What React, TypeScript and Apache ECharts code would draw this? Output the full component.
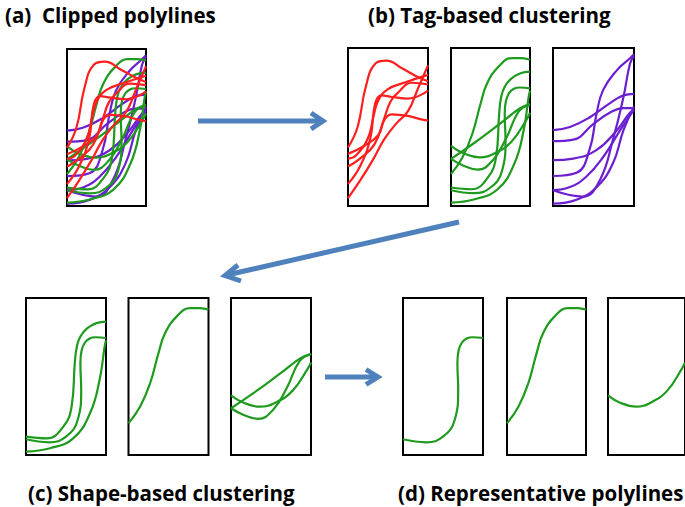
import React, { useEffect, useRef } from 'react';
import * as echarts from 'echarts';

type Pt = [number, number];

// Polylines in panel units: x 0..10 (left to right), y 0..10 (bottom to top)
const redCurves: Pt[][] = [
  [[0, 3.7], [1.2, 5.0], [2.2, 7.5], [3.4, 9.0], [4.8, 9.2], [6.8, 8.7], [8.6, 8.2], [10, 7.9]],
  [[0, 2.5], [1.5, 3.0], [3.3, 3.9], [4.5, 5.5], [5.3, 6.6], [6.3, 7.2], [8.0, 7.8], [10, 7.7]],
  [[0, 1.4], [1.5, 2.5], [2.8, 4.3], [3.4, 6.5], [4.2, 7.0], [5.5, 6.9], [7.5, 6.8], [10, 7.3]],
  [[0, 0.5], [1.5, 1.6], [3.2, 3.0], [4.5, 4.2], [6.0, 5.2], [7.5, 6.0], [8.8, 7.5], [10, 8.9]],
  [[0, 3.3], [2.0, 3.8], [3.8, 4.5], [4.6, 5.5], [5.5, 5.8], [7.5, 5.7], [9.0, 5.5], [10, 5.4]],
  [[0, 3.0], [1.0, 3.2], [2.5, 4.3], [3.2, 5.7], [3.8, 6.7], [5.0, 7.4], [7.0, 7.8], [10, 8.3]],
];

// Green polylines, grouped by shape cluster
const greenShapeA: Pt[][] = [
  [[0, 1.17], [2.6, 1.06], [4.67, 1.81], [5.7, 3.09], [6.1, 5.85], [6.35, 6.9], [6.8, 7.55], [7.6, 8.05], [8.8, 8.4], [10, 8.5]],
  [[0, 1.0], [2.9, 0.81], [5.0, 1.17], [6.46, 2.23], [6.9, 4.15], [6.8, 5.85], [6.95, 6.65], [7.35, 7.15], [7.95, 7.42], [8.7, 7.5], [10, 7.45]],
  [[0, 0.21], [3.0, 0.43], [5.9, 1.06], [8.0, 2.66], [9.2, 4.79], [9.83, 6.91], [10, 7.3]],
];
const greenShapeB: Pt[][] = [
  [[0, 2.02], [1.46, 3.09], [2.7, 4.57], [3.75, 6.49], [4.58, 7.77], [6.04, 8.83], [7.7, 9.36], [8.96, 9.36], [10, 9.26]],
];
const greenShapeC: Pt[][] = [
  [[0, 3.8], [1.5, 3.35], [3.6, 3.08], [5.6, 3.35], [7.7, 4.1], [9.6, 5.5], [10, 5.9]],
  [[0, 2.98], [2.8, 3.94], [6.2, 5.21], [8.7, 6.17], [10, 6.45]],
  [[0, 2.98], [1.6, 2.55], [3.4, 2.3], [5.3, 2.9], [7.0, 4.3], [8.6, 6.0], [10, 6.4]],
];

const purpleCurves: Pt[][] = [
  [[0, 4.8], [2.1, 5.0], [4.5, 5.6], [7.0, 6.5], [8.7, 7.0], [10, 7.1]],
  [[0, 4.1], [2.5, 4.2], [5.0, 5.2], [7.0, 5.9], [8.7, 6.2], [10, 6.2]],
  [[0, 1.9], [2.9, 2.1], [4.5, 3.55], [5.4, 5.9], [6.2, 7.35], [7.9, 8.6], [9.5, 9.35], [10, 9.6]],
  [[0, 1.0], [3.7, 0.6], [5.8, 1.65], [7.4, 4.2], [8.7, 6.9], [9.5, 9.0], [10, 9.5]],
  [[0, 2.9], [2.5, 3.0], [5.4, 3.55], [7.9, 4.8], [9.5, 5.9], [10, 6.0]],
  [[0, 1.0], [2.1, 1.2], [4.1, 1.85], [6.2, 3.1], [8.3, 4.8], [10, 6.1]],
  [[0, 0.15], [2.9, 0.4], [5.4, 1.2], [7.4, 2.7], [8.7, 4.8], [10, 6.3]],
];

// Medoid of each shape cluster (index into the cluster)
const representativeIndex = [1, 0, 0];

const panelTitles = ['(a)  Clipped polylines', '(b) Tag-based clustering', '(c) Shape-based clustering', '(d) Representative polylines'];

const RED = '#ff1f1f';
const GREEN = '#1e9a1e';
const PURPLE = '#6b1fd0';
const ARROW = '#4f81bd';

type Panel = { box: [number, number, number, number]; curves: { pts: Pt[]; color: string }[] };

const tag = (list: Pt[][], color: string) => list.map((pts) => ({ pts, color }));
const greenAll = [...greenShapeA, ...greenShapeB, ...greenShapeC];
const shapeClusters = [greenShapeA, greenShapeB, greenShapeC];

const panels: Panel[] = [
  { box: [67, 49, 79, 157], curves: [...tag(purpleCurves, PURPLE), ...tag(greenAll, GREEN), ...tag(redCurves, RED)] },
  { box: [348, 48, 80, 158], curves: tag(redCurves, RED) },
  { box: [451, 48, 79, 158], curves: tag(greenAll, GREEN) },
  { box: [553, 48, 81, 158], curves: tag(purpleCurves, PURPLE) },
  ...shapeClusters.map((c, i) => ({ box: [26 + i * 102.5, 298, 80, 157] as [number, number, number, number], curves: tag(c, GREEN) })),
  ...shapeClusters.map((c, i) => ({
    box: [[403, 298, 80, 157], [507, 298, 79, 157], [608, 298, 80, 157]][i] as [number, number, number, number],
    curves: tag([c[representativeIndex[i]]], GREEN),
  })),
];

function arrow(shaft: [number, number][], head: [number, number][]) {
  return [
    { type: 'polyline', shape: { points: shaft }, style: { stroke: ARROW, lineWidth: 5, fill: null }, silent: true },
    { type: 'polyline', shape: { points: head }, style: { stroke: ARROW, lineWidth: 5, fill: null, lineJoin: 'miter' }, silent: true },
  ];
}

export default function App() {
  const ref = useRef<HTMLDivElement>(null);
  useEffect(() => {
    const chart = echarts.init(ref.current!, null, { renderer: 'svg' });
    const grid = panels.map((p) => ({
      left: p.box[0], top: p.box[1], width: p.box[2], height: p.box[3],
      show: true, borderColor: '#000', borderWidth: 2, backgroundColor: 'transparent',
    }));
    const axisBase = { type: 'value', min: 0, max: 10, show: false };
    const xAxis = panels.map((_, i) => ({ ...axisBase, gridIndex: i }));
    const yAxis = panels.map((_, i) => ({ ...axisBase, gridIndex: i }));
    const series: any[] = [];
    panels.forEach((p, i) => {
      p.curves.forEach((c) => {
        series.push({
          type: 'line', xAxisIndex: i, yAxisIndex: i, data: c.pts, smooth: 0.45,
          showSymbol: false, clip: true, lineStyle: { color: c.color, width: 2.2 }, silent: true,
        });
      });
    });
    const titlePos: [number, number][] = [[5, 15], [368, 15], [28, 493], [398, 493]];
    const texts = panelTitles.map((t, i) => ({
      type: 'text', x: titlePos[i][0], y: titlePos[i][1],
      style: { text: t, fill: '#000', font: 'bold 20.5px "Open Sans"', textVerticalAlign: 'middle', verticalAlign: 'middle' },
    }));
    chart.setOption({
      animation: false,
      grid, xAxis, yAxis, series,
      graphic: [
        ...texts,
        ...arrow([[198, 121], [321, 121]], [[311, 113], [323, 121], [311, 129]]),
        ...arrow([[459, 222], [227, 275]], [[238, 265], [225, 275.5], [241, 281]]),
        ...arrow([[325, 377], [376, 377]], [[366, 369.5], [378, 377], [366, 384.5]]),
      ],
    });
    return () => chart.dispose();
  }, []);
  return <div ref={ref} style={{ position: 'absolute', left: 0, top: 0, width: 685, height: 507 }} />;
}
